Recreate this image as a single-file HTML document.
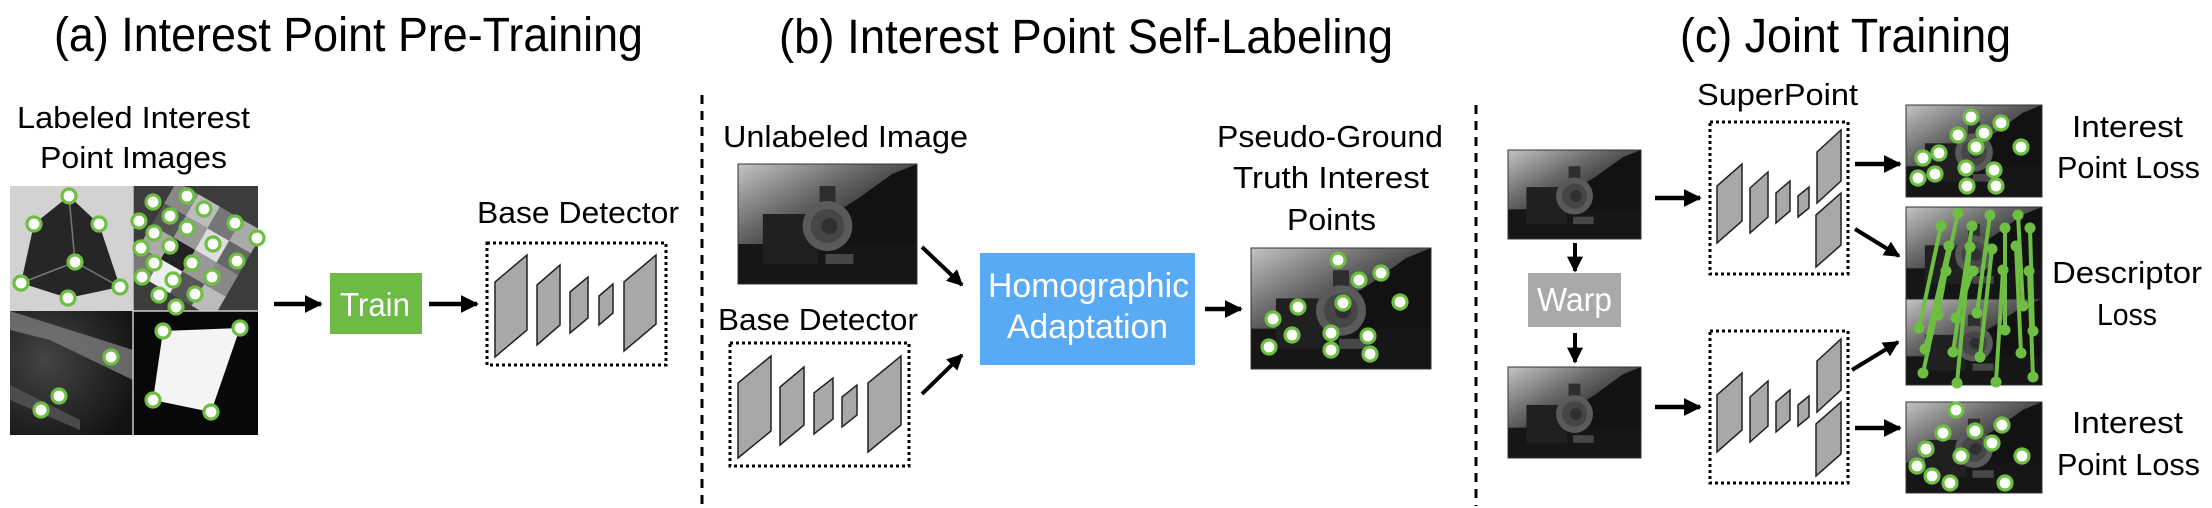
<!DOCTYPE html>
<html><head><meta charset="utf-8"><style>
html,body{margin:0;padding:0;background:#fff;}
svg{display:block;}
text{font-family:"Liberation Sans Narrow","Liberation Sans",sans-serif;fill:#000;}
</style></head><body>
<svg width="2212" height="508" viewBox="0 0 2212 508" xmlns="http://www.w3.org/2000/svg">
<defs>
<marker id="ah" viewBox="0 0 10 10" refX="9" refY="5" markerWidth="4" markerHeight="4.4" orient="auto" markerUnits="strokeWidth">
<path d="M0,0 L10,5 L0,10 z" fill="#000"/>
</marker>
<linearGradient id="sky" x1="0" y1="0" x2="0.8" y2="1">
<stop offset="0" stop-color="#c4c4c4"/><stop offset="0.35" stop-color="#6a6a6a"/><stop offset="0.7" stop-color="#1e1e1e"/><stop offset="1" stop-color="#0e0e0e"/>
</linearGradient>
<radialGradient id="blg" cx="0.3" cy="0.4" r="0.8">
<stop offset="0" stop-color="#444"/><stop offset="1" stop-color="#111"/>
</radialGradient>
<clipPath id="trc"><rect x="133" y="186" width="125" height="125"/></clipPath>
<symbol id="train" viewBox="0 0 180 120" preserveAspectRatio="none">
<rect x="0" y="0" width="180" height="120" fill="url(#sky)"/>
<polygon points="50,120 80,60 120,35 155,10 180,0 180,120" fill="#121212"/>
<rect x="0" y="80" width="180" height="40" fill="#161616"/>
<rect x="25" y="50" width="55" height="50" fill="#202020"/>
<rect x="82" y="22" width="16" height="22" fill="#2e2e2e"/>
<circle cx="90" cy="62" r="25" fill="#5a5a5a"/>
<circle cx="90" cy="62" r="17" fill="#464646"/>
<circle cx="92" cy="62" r="8" fill="#303030"/>
<rect x="88" y="90" width="28" height="10" fill="#777" opacity="0.5"/>
</symbol>
<g id="pt"><circle r="7" fill="#fff" stroke="#6fbe44" stroke-width="3.2"/></g>
</defs>

<text x="54" y="51" font-size="48" textLength="589" lengthAdjust="spacingAndGlyphs">(a) Interest Point Pre-Training</text>
<text x="779" y="53" font-size="48" textLength="614" lengthAdjust="spacingAndGlyphs">(b) Interest Point Self-Labeling</text>
<text x="1680" y="52" font-size="48" textLength="331" lengthAdjust="spacingAndGlyphs">(c) Joint Training</text>

<line x1="702" y1="95" x2="702" y2="506" stroke="#000" stroke-width="3" stroke-dasharray="9,7"/>
<line x1="1476" y1="105" x2="1476" y2="506" stroke="#000" stroke-width="3" stroke-dasharray="9,7"/>

<!-- Panel A -->
<text x="17" y="128" font-size="31" textLength="233" lengthAdjust="spacingAndGlyphs">Labeled Interest</text>
<text x="40" y="168" font-size="31" textLength="187" lengthAdjust="spacingAndGlyphs">Point Images</text>
<rect x="10" y="186" width="123" height="125" fill="#d2d2d2"/>
<polygon points="69,196 99,224 120,287 68,298 21,283 34,224" fill="#262626"/>
<line x1="75" y1="262" x2="69" y2="196" stroke="#777" stroke-width="1.5"/>
<line x1="75" y1="262" x2="21" y2="283" stroke="#777" stroke-width="1.5"/>
<line x1="75" y1="262" x2="120" y2="287" stroke="#777" stroke-width="1.5"/>
<rect x="133" y="186" width="125" height="125" fill="#3c3c3c"/>
<g clip-path="url(#trc)">
<g transform="translate(195,250) rotate(30)">
<rect x="-50" y="-50" width="25" height="25" fill="#888"/><rect x="-25" y="-50" width="25" height="25" fill="#bbb"/><rect x="0" y="-50" width="25" height="25" fill="#777"/><rect x="25" y="-50" width="25" height="25" fill="#aaa"/>
<rect x="-50" y="-25" width="25" height="25" fill="#555"/><rect x="-25" y="-25" width="25" height="25" fill="#999"/><rect x="0" y="-25" width="25" height="25" fill="#ddd"/><rect x="25" y="-25" width="25" height="25" fill="#666"/>
<rect x="-50" y="0" width="25" height="25" fill="#aaa"/><rect x="-25" y="0" width="25" height="25" fill="#222"/><rect x="0" y="0" width="25" height="25" fill="#999"/><rect x="25" y="0" width="25" height="25" fill="#888"/>
<rect x="-50" y="25" width="25" height="25" fill="#777"/><rect x="-25" y="25" width="25" height="25" fill="#eee"/><rect x="0" y="25" width="25" height="25" fill="#555"/><rect x="25" y="25" width="25" height="25" fill="#bbb"/>
</g>
</g>
<rect x="10" y="311" width="123" height="124" fill="url(#blg)"/>
<polygon points="10,311 133,350 133,380 50,340 10,330" fill="#7a7a7a" opacity="0.8"/>
<polygon points="10,385 80,420 80,430 10,400" fill="#555" opacity="0.8"/>
<rect x="133" y="311" width="125" height="124" fill="#080808"/>
<polygon points="163,331 240,328 211,412 153,400" fill="#f4f4f4"/>
<line x1="133" y1="311" x2="258" y2="311" stroke="#ccc" stroke-width="1.5"/>
<line x1="133" y1="186" x2="133" y2="435" stroke="#ccc" stroke-width="1.5"/>
<g>
<use href="#pt" x="69" y="196"/><use href="#pt" x="34" y="224"/><use href="#pt" x="99" y="224"/><use href="#pt" x="75" y="262"/><use href="#pt" x="21" y="283"/><use href="#pt" x="120" y="287"/><use href="#pt" x="68" y="298"/>
<use href="#pt" x="187" y="196"/><use href="#pt" x="153" y="202"/><use href="#pt" x="204" y="209"/><use href="#pt" x="170" y="216"/><use href="#pt" x="139" y="221"/><use href="#pt" x="187" y="228"/><use href="#pt" x="235" y="223"/><use href="#pt" x="257" y="238"/><use href="#pt" x="154" y="233"/><use href="#pt" x="213" y="244"/><use href="#pt" x="141" y="248"/><use href="#pt" x="170" y="246"/><use href="#pt" x="237" y="261"/><use href="#pt" x="154" y="263"/><use href="#pt" x="192" y="263"/><use href="#pt" x="142" y="277"/><use href="#pt" x="173" y="280"/><use href="#pt" x="212" y="277"/><use href="#pt" x="159" y="295"/><use href="#pt" x="195" y="294"/><use href="#pt" x="176" y="307"/>
<use href="#pt" x="111" y="357"/><use href="#pt" x="59" y="396"/><use href="#pt" x="41" y="410"/>
<use href="#pt" x="163" y="331"/><use href="#pt" x="240" y="328"/><use href="#pt" x="153" y="400"/><use href="#pt" x="211" y="412"/>
</g>
<line x1="274" y1="304" x2="321" y2="304" stroke="#000" stroke-width="4.5" marker-end="url(#ah)"/>
<rect x="330" y="273" width="92" height="61" fill="#6dbb45"/>
<text x="340" y="316" font-size="33" style="fill:#fff" textLength="70" lengthAdjust="spacingAndGlyphs">Train</text>
<line x1="429" y1="304" x2="477" y2="304" stroke="#000" stroke-width="4.5" marker-end="url(#ah)"/>
<text x="477" y="223" font-size="31" textLength="202" lengthAdjust="spacingAndGlyphs">Base Detector</text>
<rect x="487" y="243" width="179" height="122" fill="none" stroke="#000" stroke-width="3" stroke-dasharray="3,3"/>
<g fill="#a8a8a8" stroke="#222" stroke-width="1.5">
<polygon points="495,282 527,255 527,330 495,357"/>
<polygon points="537,285 560,265 560,325 537,345"/>
<polygon points="570,292 588,277 588,318 570,333"/>
<polygon points="599,296 613,284 613,313 599,325"/>
<polygon points="624,282 656,255 656,324 624,351"/>
</g>

<!-- Panel B -->
<text x="723" y="147" font-size="31" textLength="245" lengthAdjust="spacingAndGlyphs">Unlabeled Image</text>
<use href="#train" x="738" y="164" width="179" height="120"/>
<rect x="738" y="164" width="179" height="120" fill="none" stroke="#333" stroke-width="1"/>
<text x="718" y="330" font-size="31" textLength="200" lengthAdjust="spacingAndGlyphs">Base Detector</text>
<rect x="730" y="343" width="179" height="123" fill="none" stroke="#000" stroke-width="3" stroke-dasharray="3,3"/>
<g fill="#a8a8a8" stroke="#222" stroke-width="1.5">
<polygon points="738,383 771,356 771,431 738,458"/>
<polygon points="780,387 804,367 804,425 780,445"/>
<polygon points="814,393 833,378 833,419 814,434"/>
<polygon points="842,397 857,385 857,415 842,427"/>
<polygon points="868,383 901,356 901,425 868,452"/>
</g>
<line x1="922" y1="247" x2="962" y2="285" stroke="#000" stroke-width="4" marker-end="url(#ah)"/>
<line x1="922" y1="394" x2="962" y2="355" stroke="#000" stroke-width="4" marker-end="url(#ah)"/>
<rect x="980" y="253" width="215" height="112" fill="#59aaf4"/>
<text x="988" y="297" font-size="34" style="fill:#fff" textLength="201" lengthAdjust="spacingAndGlyphs">Homographic</text>
<text x="1007" y="338" font-size="34" style="fill:#fff" textLength="161" lengthAdjust="spacingAndGlyphs">Adaptation</text>
<line x1="1205" y1="309" x2="1241" y2="309" stroke="#000" stroke-width="4.5" marker-end="url(#ah)"/>
<text x="1217" y="147" font-size="31" textLength="226" lengthAdjust="spacingAndGlyphs">Pseudo-Ground</text>
<text x="1233" y="188" font-size="31" textLength="196" lengthAdjust="spacingAndGlyphs">Truth Interest</text>
<text x="1287" y="230" font-size="31" textLength="89" lengthAdjust="spacingAndGlyphs">Points</text>
<use href="#train" x="1251" y="248" width="180" height="121"/>
<rect x="1251" y="248" width="180" height="121" fill="none" stroke="#333" stroke-width="1"/>
<g>
<use href="#pt" x="1338" y="260"/><use href="#pt" x="1359" y="280"/><use href="#pt" x="1381" y="273"/><use href="#pt" x="1343" y="303"/><use href="#pt" x="1400" y="302"/><use href="#pt" x="1298" y="307"/><use href="#pt" x="1273" y="319"/><use href="#pt" x="1292" y="335"/><use href="#pt" x="1331" y="333"/><use href="#pt" x="1368" y="336"/><use href="#pt" x="1269" y="347"/><use href="#pt" x="1331" y="350"/><use href="#pt" x="1370" y="354"/>
</g>

<!-- Panel C -->
<use href="#train" x="1508" y="150" width="133" height="89"/>
<rect x="1508" y="150" width="133" height="89" fill="none" stroke="#333" stroke-width="1"/>
<line x1="1575" y1="243" x2="1575" y2="271" stroke="#000" stroke-width="4" marker-end="url(#ah)"/>
<rect x="1528" y="273" width="93" height="54" fill="#a9a9a9"/>
<text x="1537" y="311" font-size="33" style="fill:#fff" textLength="75" lengthAdjust="spacingAndGlyphs">Warp</text>
<line x1="1575" y1="333" x2="1575" y2="362" stroke="#000" stroke-width="4" marker-end="url(#ah)"/>
<use href="#train" x="1508" y="367" width="133" height="91"/>
<rect x="1508" y="367" width="133" height="91" fill="none" stroke="#333" stroke-width="1"/>
<line x1="1655" y1="198" x2="1700" y2="198" stroke="#000" stroke-width="4.5" marker-end="url(#ah)"/>
<line x1="1655" y1="407" x2="1700" y2="407" stroke="#000" stroke-width="4.5" marker-end="url(#ah)"/>
<text x="1697" y="105" font-size="31" textLength="161" lengthAdjust="spacingAndGlyphs">SuperPoint</text>
<g id="sp">
<rect x="1710" y="122" width="138" height="152" fill="none" stroke="#000" stroke-width="3" stroke-dasharray="3,3"/>
<g fill="#a8a8a8" stroke="#222" stroke-width="1.5">
<polygon points="1717,186 1742,164 1742,221 1717,243"/>
<polygon points="1750,188 1768,172 1768,217 1750,233"/>
<polygon points="1776,193 1790,181 1790,211 1776,223"/>
<polygon points="1798,196 1809,187 1809,208 1798,217"/>
<polygon points="1817,152 1841,130 1841,181 1817,203"/>
<polygon points="1816,215 1841,193 1841,245 1816,267"/>
</g>
</g>
<use href="#sp" x="0" y="209"/>
<line x1="1855" y1="164" x2="1900" y2="164" stroke="#000" stroke-width="4.5" marker-end="url(#ah)"/>
<line x1="1855" y1="229" x2="1899" y2="256" stroke="#000" stroke-width="4" marker-end="url(#ah)"/>
<line x1="1852" y1="370" x2="1898" y2="342" stroke="#000" stroke-width="4" marker-end="url(#ah)"/>
<line x1="1855" y1="428" x2="1900" y2="428" stroke="#000" stroke-width="4.5" marker-end="url(#ah)"/>

<use href="#train" x="1906" y="105" width="136" height="92"/>
<rect x="1906" y="105" width="136" height="92" fill="none" stroke="#333" stroke-width="1"/>
<g>
<use href="#pt" x="1971" y="117"/><use href="#pt" x="2001" y="123"/><use href="#pt" x="1958" y="135"/><use href="#pt" x="1984" y="133"/><use href="#pt" x="1976" y="147"/><use href="#pt" x="2021" y="147"/><use href="#pt" x="1939" y="153"/><use href="#pt" x="1923" y="158"/><use href="#pt" x="1935" y="174"/><use href="#pt" x="1918" y="178"/><use href="#pt" x="1966" y="168"/><use href="#pt" x="1994" y="170"/><use href="#pt" x="1967" y="186"/><use href="#pt" x="1996" y="186"/>
</g>

<use href="#train" x="1906" y="207" width="136" height="92"/>
<use href="#train" x="1906" y="299" width="136" height="86"/>
<rect x="1906" y="207" width="136" height="178" fill="none" stroke="#333" stroke-width="1"/>
<line x1="1906" y1="299" x2="2042" y2="299" stroke="#222" stroke-width="1"/>
<g stroke="#6fbe44" stroke-width="4" fill="#6fbe44">
<line x1="1958" y1="213" x2="1923" y2="373"/><line x1="1941" y1="226" x2="1919" y2="328"/><line x1="1990" y1="215" x2="1977" y2="313"/><line x1="2018" y1="215" x2="2023" y2="306"/><line x1="1972" y1="226" x2="1953" y2="352"/><line x1="2005" y1="228" x2="2005" y2="330"/><line x1="2030" y1="228" x2="2033" y2="331"/><line x1="1949" y1="246" x2="1925" y2="349"/><line x1="1970" y1="247" x2="1957" y2="383"/><line x1="1992" y1="249" x2="1980" y2="357"/><line x1="2016" y1="246" x2="2021" y2="353"/><line x1="1946" y1="271" x2="1938" y2="315"/><line x1="1973" y1="271" x2="1956" y2="318"/><line x1="2003" y1="270" x2="1996" y2="382"/><line x1="2029" y1="271" x2="2033" y2="377"/>
</g>
<g fill="#6fbe44">
<circle cx="1958" cy="213" r="5.5"/><circle cx="1923" cy="373" r="5.5"/><circle cx="1941" cy="226" r="5.5"/><circle cx="1919" cy="328" r="5.5"/><circle cx="1990" cy="215" r="5.5"/><circle cx="1977" cy="313" r="5.5"/><circle cx="2018" cy="215" r="5.5"/><circle cx="2023" cy="306" r="5.5"/><circle cx="1972" cy="226" r="5.5"/><circle cx="1953" cy="352" r="5.5"/><circle cx="2005" cy="228" r="5.5"/><circle cx="2005" cy="330" r="5.5"/><circle cx="2030" cy="228" r="5.5"/><circle cx="2033" cy="331" r="5.5"/><circle cx="1949" cy="246" r="5.5"/><circle cx="1925" cy="349" r="5.5"/><circle cx="1970" cy="247" r="5.5"/><circle cx="1957" cy="383" r="5.5"/><circle cx="1992" cy="249" r="5.5"/><circle cx="1980" cy="357" r="5.5"/><circle cx="2016" cy="246" r="5.5"/><circle cx="2021" cy="353" r="5.5"/><circle cx="1946" cy="271" r="5.5"/><circle cx="1938" cy="315" r="5.5"/><circle cx="1973" cy="271" r="5.5"/><circle cx="1956" cy="318" r="5.5"/><circle cx="2003" cy="270" r="5.5"/><circle cx="1996" cy="382" r="5.5"/><circle cx="2029" cy="271" r="5.5"/><circle cx="2033" cy="377" r="5.5"/>
</g>

<use href="#train" x="1906" y="402" width="136" height="91"/>
<rect x="1906" y="402" width="136" height="91" fill="none" stroke="#333" stroke-width="1"/>
<g>
<use href="#pt" x="1956" y="410"/><use href="#pt" x="2002" y="425"/><use href="#pt" x="1943" y="433"/><use href="#pt" x="1975" y="431"/><use href="#pt" x="1992" y="443"/><use href="#pt" x="1926" y="449"/><use href="#pt" x="1961" y="456"/><use href="#pt" x="2022" y="456"/><use href="#pt" x="1917" y="466"/><use href="#pt" x="1932" y="476"/><use href="#pt" x="1950" y="483"/><use href="#pt" x="2005" y="483"/>
</g>

<text x="2072" y="137" font-size="31" textLength="111" lengthAdjust="spacingAndGlyphs">Interest</text>
<text x="2057" y="178" font-size="31" textLength="143" lengthAdjust="spacingAndGlyphs">Point Loss</text>
<text x="2052" y="283" font-size="31" textLength="150" lengthAdjust="spacingAndGlyphs">Descriptor</text>
<text x="2097" y="325" font-size="31" textLength="60" lengthAdjust="spacingAndGlyphs">Loss</text>
<text x="2072" y="433" font-size="31" textLength="111" lengthAdjust="spacingAndGlyphs">Interest</text>
<text x="2057" y="475" font-size="31" textLength="143" lengthAdjust="spacingAndGlyphs">Point Loss</text>
</svg>
</body></html>
